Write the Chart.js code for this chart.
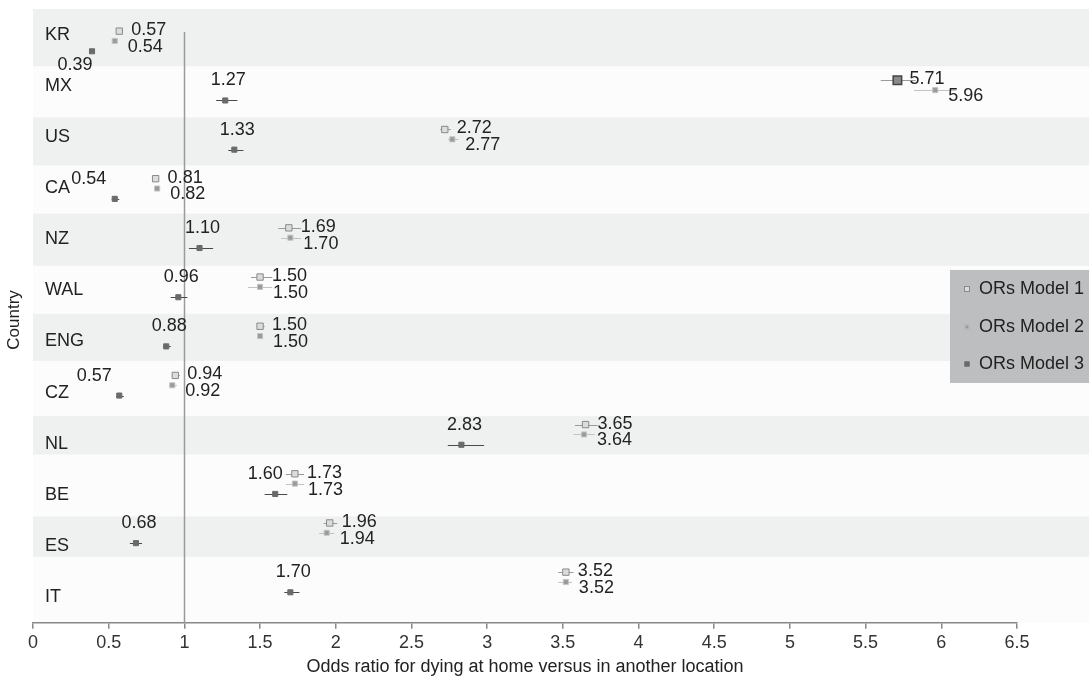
<!DOCTYPE html>
<html>
<head>
<meta charset="utf-8">
<script src="https://cdn.jsdelivr.net/npm/chart.js"></script>
<style>
  html, body { margin: 0; padding: 0; background: #fff; }
  #wrap { width: 1089px; height: 678px; }
</style>
</head>
<body>
<div id="wrap"><canvas id="forest" width="1089" height="678"></canvas></div>
<script>
// odds ratios per country, three models, with rough CI bounds
const countries = ['KR', 'MX', 'US', 'CA', 'NZ', 'WAL', 'ENG', 'CZ', 'NL', 'BE', 'ES', 'IT'];

const model1   = [0.57, 5.71, 2.72, 0.81, 1.69, 1.50, 1.50, 0.94, 3.65, 1.73, 1.96, 3.52];
const model1Lo = [0.56, 5.60, 2.69, 0.80, 1.62, 1.44, 1.48, 0.92, 3.58, 1.67, 1.92, 3.47];
const model1Hi = [0.58, 5.83, 2.76, 0.83, 1.77, 1.58, 1.53, 0.97, 3.73, 1.79, 2.01, 3.57];

const model2   = [0.54, 5.96, 2.77, 0.82, 1.70, 1.50, 1.50, 0.92, 3.64, 1.73, 1.94, 3.52];
const model2Lo = [0.53, 5.82, 2.74, 0.81, 1.64, 1.42, 1.48, 0.90, 3.57, 1.67, 1.89, 3.47];
const model2Hi = [0.55, 6.10, 2.81, 0.84, 1.77, 1.58, 1.52, 0.95, 3.71, 1.79, 1.99, 3.56];

const model3   = [0.39, 1.27, 1.33, 0.54, 1.10, 0.96, 0.88, 0.57, 2.83, 1.60, 0.68, 1.70];
const model3Lo = [0.38, 1.21, 1.29, 0.52, 1.03, 0.91, 0.86, 0.55, 2.74, 1.53, 0.64, 1.66];
const model3Hi = [0.40, 1.35, 1.39, 0.57, 1.19, 1.02, 0.91, 0.60, 2.98, 1.68, 0.72, 1.76];

const xTicks = [0, 0.5, 1, 1.5, 2, 2.5, 3, 3.5, 4, 4.5, 5, 5.5, 6, 6.5];
const seriesNames = ['ORs Model 1', 'ORs Model 2', 'ORs Model 3'];

const FONT = '"Liberation Sans", Arial, Helvetica, sans-serif';
Chart.defaults.font.family = FONT;
Chart.defaults.color = '#222';

// row offsets of the three models inside a country row (on the y2 scale)
const rowOffset = [0, 0.2, 0.41];
// where Model 3 labels go when they don't sit above the marker
const m3Shift = { KR: [-17, 14], CA: [-26, -20], CZ: [-25, -20], BE: [-10, -20] };
// grey stripes behind the rows (y scale units), they are not quite even in the original
const stripes = [[0, 1.12], [2.12, 3.06], [4.0, 5.02], [5.96, 6.88], [7.96, 8.71], [9.92, 10.71]];

const styles = [
  { fill: '#dcdcdc', border: '#8a8a8a', whisker: '#9a9a9a', r: 4.5 },
  { fill: '#9a9a9a', border: '#c4c4c4', whisker: '#c2c2c2', r: 3.6 },
  { fill: '#6a6a6a', border: '#6a6a6a', whisker: '#4a4a4a', r: 3.6 }
];

const mids = [model1, model2, model3];
const lows = [model1Lo, model2Lo, model3Lo];
const highs = [model1Hi, model2Hi, model3Hi];

function makeSet(m) {
  const st = styles[m];
  return {
    label: seriesNames[m],
    data: mids[m].map((v, i) => ({ x: v, y: i + rowOffset[m] })),
    yAxisID: 'y2',
    pointStyle: 'rect',
    pointRadius: m === 0 ? (c => c.dataIndex === 1 ? 6 : st.r) : st.r,
    pointHoverRadius: st.r,
    backgroundColor: m === 0 ? (c => c.dataIndex === 1 ? '#8a8a8a' : st.fill) : st.fill,
    borderColor: m === 0 ? (c => c.dataIndex === 1 ? '#444' : st.border) : st.border,
    borderWidth: m === 0 ? (c => c.dataIndex === 1 ? 1.5 : 1) : 1
  };
}

const bandsPlugin = {
  id: 'bands',
  beforeDraw(chart) {
    const ctx = chart.ctx, a = chart.chartArea, y = chart.scales.y;
    ctx.save();
    ctx.fillStyle = '#fcfcfc';
    ctx.fillRect(a.left, a.top, chart.width - a.left, a.bottom - a.top);
    ctx.fillStyle = '#eff0f0';
    stripes.forEach(s => {
      const top = y.getPixelForValue(s[0]), bot = y.getPixelForValue(s[1]);
      ctx.fillRect(a.left, top, chart.width - a.left, bot - top);
    });
    ctx.restore();
  },
  beforeDatasetsDraw(chart) {
    const ctx = chart.ctx, a = chart.chartArea, x = chart.scales.x, y = chart.scales.y, y2 = chart.scales.y2;
    ctx.save();
    // reference line at OR = 1
    const x1 = Math.round(x.getPixelForValue(1)) + 0.5;
    ctx.strokeStyle = '#9a9a9a';
    ctx.lineWidth = 1.5;
    ctx.beginPath();
    ctx.moveTo(x1, a.top + 23);
    ctx.lineTo(x1, a.bottom);
    ctx.stroke();
    // confidence interval whiskers
    ctx.lineWidth = 1;
    for (let m = 0; m < 3; m++) {
      ctx.strokeStyle = styles[m].whisker;
      mids[m].forEach((v, i) => {
        const py = Math.round(y2.getPixelForValue(i + rowOffset[m])) + 0.5;
        ctx.beginPath();
        ctx.moveTo(x.getPixelForValue(lows[m][i]), py);
        ctx.lineTo(x.getPixelForValue(highs[m][i]), py);
        ctx.stroke();
      });
    }
    // country names inside the rows
    ctx.font = '18px ' + FONT;
    ctx.fillStyle = '#222';
    ctx.textAlign = 'left';
    ctx.textBaseline = 'middle';
    countries.forEach((c, i) => ctx.fillText(c, a.left + 12, y.getPixelForValue(i + 0.5)));
    // y axis title
    ctx.translate(14, (a.top + a.bottom) / 2 + 4);
    ctx.rotate(-Math.PI / 2);
    ctx.textAlign = 'center';
    ctx.font = '17px ' + FONT;
    ctx.fillText('Country', 0, 0);
    ctx.restore();
  },
  afterDatasetsDraw(chart) {
    const ctx = chart.ctx, x = chart.scales.x, y2 = chart.scales.y2;
    ctx.save();
    ctx.font = '18px ' + FONT;
    ctx.fillStyle = '#222';
    ctx.textBaseline = 'middle';
    for (let m = 0; m < 3; m++) {
      mids[m].forEach((v, i) => {
        const px = x.getPixelForValue(v), py = y2.getPixelForValue(i + rowOffset[m]);
        const txt = v.toFixed(2);
        if (m === 0) {
          ctx.textAlign = 'left';
          ctx.fillText(txt, px + 12, py - 1);
        } else if (m === 1) {
          ctx.textAlign = 'left';
          ctx.fillText(txt, px + 13, py + 6);
        } else {
          const sh = m3Shift[countries[i]] || [3, -20];
          ctx.textAlign = 'center';
          ctx.fillText(txt, px + sh[0], py + sh[1]);
        }
      });
    }
    ctx.restore();
  },
  afterDraw(chart) {
    // legend box sitting over the right edge
    const ctx = chart.ctx;
    const bx = chart.width - 139, by = 270;
    ctx.save();
    ctx.fillStyle = '#bdbebf';
    ctx.fillRect(bx, by, 139, 113);
    ctx.font = '18px ' + FONT;
    ctx.textBaseline = 'middle';
    ctx.textAlign = 'left';
    const rows = [289, 327, 364];
    seriesNames.forEach((name, m) => {
      const st = styles[m];
      const s = m === 0 ? 6 : 5;
      ctx.fillStyle = st.fill;
      ctx.strokeStyle = st.border;
      ctx.lineWidth = 1;
      ctx.fillRect(bx + 17 - s / 2, rows[m] - s / 2, s, s);
      ctx.strokeRect(bx + 17 - s / 2 + 0.5, rows[m] - s / 2 + 0.5, s - 1, s - 1);
      ctx.fillStyle = '#222';
      ctx.fillText(name, bx + 29, rows[m]);
    });
    ctx.restore();
  }
};

new Chart(document.getElementById('forest'), {
  type: 'scatter',
  data: { datasets: [makeSet(0), makeSet(1), makeSet(2)] },
  options: {
    responsive: false,
    animation: false,
    layout: { padding: { top: 9, right: 72, left: 33, bottom: 0 } },
    plugins: { legend: { display: false }, tooltip: { enabled: false } },
    scales: {
      x: {
        type: 'linear', min: 0, max: 6.5,
        afterBuildTicks: s => { s.ticks = xTicks.map(v => ({ value: v })); },
        ticks: { font: { size: 18 }, color: '#333', padding: 3, maxRotation: 0, autoSkip: false, callback: v => String(v) },
        grid: { display: true, drawOnChartArea: false, tickLength: 6, color: '#888', lineWidth: 1.5 },
        border: { display: true, color: '#888', width: 1.5 },
        title: { display: true, text: 'Odds ratio for dying at home versus in another location', font: { size: 18 }, color: '#222', padding: { top: 0, bottom: 0 } }
      },
      y: {
        type: 'linear', min: 0, max: 12, reverse: true, display: false
      },
      y2: {
        type: 'linear', min: -0.45, max: 12.03, reverse: true, display: false
      }
    }
  },
  plugins: [bandsPlugin]
});
</script>
</body>
</html>
